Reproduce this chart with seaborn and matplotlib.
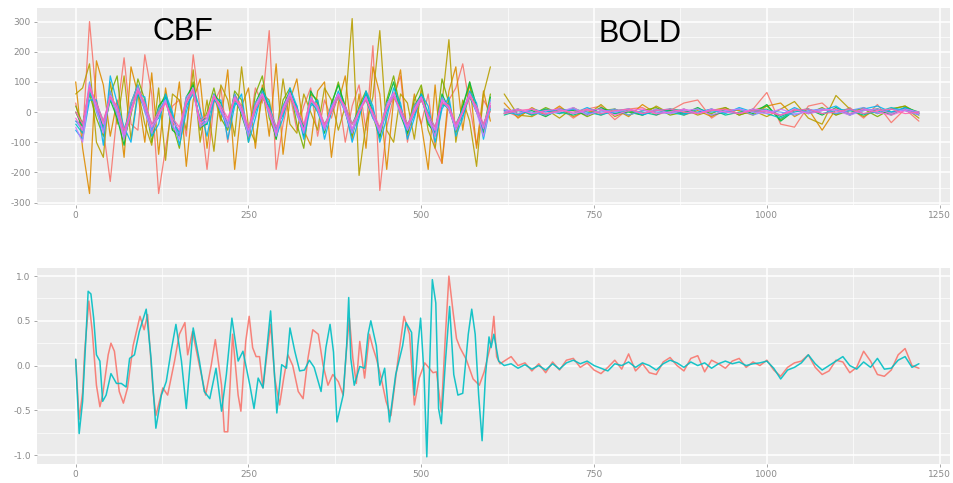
import pandas as pd
import matplotlib.pyplot as plt
import seaborn as sns

# --- Time grids ---
cbf_t = list(range(0, 601, 10))
bold_t = list(range(620, 1221, 20))
bold_t_avg = list(range(620, 1221, 10))

# --- Top panel: 12 ROI traces, CBF part (t = 0..600) ---
cbf_1 = [30, -80, 300, 40, -60, -230, 0, 180, -40, -60,
         190, 60, -270, -120, 20, 40, -80, 190, 10, -190,
         30, 80, -100, 60, 20, -70, 80, 30, 270, -190,
         -40, 60, -60, 20, 80, -80, 40, -20, 60, -100,
         20, 90, -60, 220, -260, -50, 50, 120, -100, 30,
         -40, 60, -120, -170, 40, 80, 160, 20, -110, 40,
         0]
cbf_2 = [100, -120, -270, 170, 90, -80, 40, -150, 150, 60,
         -100, 130, -140, 80, -60, 100, -180, 40, 110, -120,
         60, -30, 140, -190, 20, 80, -120, 90, -80, 160,
         -140, 40, 110, -60, -110, 70, 100, -150, 30, 120,
         -90, 60, -120, 150, 60, -190, 40, 140, -80, 60,
         -40, -190, 90, -170, 70, 150, -60, 100, -120, 70,
         -30]
cbf_3 = [60, 80, 160, -100, -150, 100, -40, 120, -90, 70,
         -40, -110, 80, -160, 60, 40, -60, 140, -100, 40,
         -130, 90, 40, -80, 150, -50, -100, 60, 40, -90,
         110, -40, -70, 60, 0, -60, 80, 40, -60, 20,
         310, -210, -40, 50, 270, -60, -100, 60, 30, -90,
         80, -60, -120, 30, 240, -100, 40, -30, -180, 60,
         150]
cbf_4 = [20, -40, 60, -20, -80, 60, 120, -90, -10, 110,
         40, -100, 10, 60, -40, -120, 30, 100, -60, 0,
         80, -20, -60, 70, 40, -100, 60, 120, -20, -80,
         40, 80, -40, -120, 60, 40, -60, 20, 100, 0,
         -80, 20, 70, -10, -90, 40, 120, 10, -60, 40,
         90, -30, -80, 110, 30, -70, 20, 90, 0, -60,
         60]
cbf_5 = [0, -50, 80, 30, -60, 40, -20, -110, 30, 90,
         10, -70, 20, 50, -60, -80, 50, 90, -50, -40,
         60, 30, -50, 60, -10, -80, 30, 80, 10, -90,
         20, 70, 10, -80, 70, 30, -70, 30, 90, 20,
         -70, 10, 60, 0, -80, 30, 100, -10, -70, 20,
         60, -40, -70, 60, 10, -60, 20, 100, 20, -70,
         50]
cbf_6 = [-30, -40, 70, 10, -50, 50, 0, -60, 20, 60,
         10, -60, 0, 40, -20, -70, 30, 70, -30, -20,
         40, 20, -40, 40, 0, -50, 10, 50, 10, -60,
         0, 50, 10, -50, 30, 10, -40, 0, 50, 20,
         -40, 10, 40, -20, -50, 10, 50, 10, -40, 0,
         40, -10, -50, 30, 10, -40, 10, 50, 0, -40,
         20]
cbf_7 = [-40, -70, 60, 30, -30, 40, 20, -80, 0, 70,
         30, -40, -20, 50, -10, -80, 20, 60, -20, -40,
         50, 0, -50, 30, 20, -70, 0, 60, 20, -50,
         -10, 60, 20, -70, 40, 0, -60, 20, 50, 0,
         -70, -10, 60, 10, -70, 0, 60, 20, -60, -10,
         50, 0, -70, 20, 30, -60, -10, 50, 20, -60,
         10]
cbf_8 = [-60, -90, 40, 40, -110, 120, 30, -50, -100, 60,
         50, -80, -40, 60, 0, -110, 0, 80, 10, -80,
         40, 40, -90, 20, 60, -100, -20, 70, 30, -80,
         -20, 80, 20, -90, 20, 40, -90, 0, 70, 10,
         -100, -20, 70, 20, -100, -20, 80, 30, -90, -20,
         60, 20, -100, 10, 50, -80, -20, 70, 30, -90,
         20]
cbf_9 = [-30, -60, 100, 0, -60, 70, -10, -80, 30, 90,
         0, -60, 10, 40, -50, -70, 50, 70, -40, -30,
         60, 0, -40, 60, 0, -70, 30, 60, -10, -60,
         20, 60, -10, -60, 50, 10, -50, 20, 60, 0,
         -60, 10, 50, -20, -60, 30, 60, -10, -50, 20,
         50, -30, -60, 50, 10, -50, 10, 60, 0, -50,
         40]
cbf_10 = [-50, -100, 80, 10, -70, 50, 0, -90, 0, 70,
          10, -70, -10, 40, -40, -90, 30, 70, -50, -30,
          50, 10, -50, 50, 0, -80, 10, 60, 0, -80,
          10, 60, 0, -70, 40, 10, -60, 10, 60, 0,
          -70, 0, 50, -10, -70, 10, 60, 0, -60, 0,
          50, -20, -80, 40, 10, -60, 0, 60, 0, -80,
          20]
cbf_11 = [-20, -60, 90, 20, -40, 55, 10, -75, 10, 80,
          20, -50, -10, 30, -30, -60, 40, 80, -40, -20,
          55, 10, -30, 50, 10, -60, 20, 60, 0, -70,
          10, 65, 0, -60, 45, 20, -50, 10, 60, 10,
          -55, 0, 50, -10, -60, 20, 65, 0, -50, 10,
          50, -20, -60, 40, 20, -50, 0, 60, 10, -55,
          30]
cbf_12 = [0, -40, 80, 30, -30, 50, 20, -60, 0, 70,
          30, -40, 0, 30, -20, -50, 30, 70, -30, -10,
          50, 20, -20, 40, 20, -50, 10, 50, 10, -50,
          0, 50, 10, -40, 40, 20, -40, 0, 50, 20,
          -40, 0, 40, 0, -50, 10, 50, 10, -40, 0,
          40, -10, -50, 30, 20, -40, 0, 50, 20, -40,
          20]

# --- Top panel: BOLD part (t = 620..1220) ---
bold_1 = [5, -15, 10, -10, 15, -20, 10, 20, -25, 10, 15, -10, 5, 30, 40, -20,
          10, -5, 10, 65, -40, -50, 20, 30, -10, 15, -20, 25, -35, 10, -30]
bold_2 = [30, -20, 15, -10, 20, -15, 5, -10, 10, -15, 25, -5, 10, -10, 5, -15,
          10, 5, -10, 20, 30, -15, 10, -60, 10, -10, 15, -5, 10, 20, -10]
bold_3 = [60, -10, -15, 10, -20, 15, -10, 25, -15, 5, -10, 20, -5, 10, -10, 5,
          15, -10, 5, -15, 10, 35, -20, -40, 55, 10, -15, 10, -5, 15, -20]
bold_4 = [-5, 10, -10, 15, -5, 10, -15, 5, 10, -10, 5, 15, -10, 0, 10, -5,
          15, -10, 5, 20, -25, 10, -5, 15, -10, 5, 10, -15, 10, 20, -5]
bold_5 = [10, -5, 5, -15, 10, 5, -10, 15, -5, 0, -10, 10, 5, -5, 15, -10,
          0, 10, -5, 25, -30, 5, 10, -10, 15, -5, 5, 10, -10, 15, 0]
bold_6 = [-10, 5, -5, 10, 0, -10, 5, 10, -5, 5, 0, -10, 10, 5, -5, 10,
          -10, 0, 5, 10, -15, 5, 0, 10, -5, 5, -10, 10, 0, 10, -5]
bold_7 = [0, 10, -10, 5, -5, 10, 0, -10, 5, 10, -5, 5, 0, -10, 10, 0,
          5, -5, 10, -5, -20, 0, 10, -5, 5, 10, -5, 0, 15, 5, 0]
bold_8 = [5, -10, 10, 0, 10, -5, 15, -5, 0, 10, -10, 5, 10, -5, 0, 10,
          -5, 15, 0, 5, -10, 15, -5, 5, 20, -10, 10, 20, 0, 15, -5]
bold_9 = [-5, 5, 0, -10, 5, 10, -5, 0, 10, -10, 5, 0, -5, 10, -5, 5,
          0, 10, -10, 5, 0, -10, 5, 10, -5, 5, 15, -5, 10, 5, -10]
bold_10 = [10, -5, 10, -5, 0, 15, -10, 5, 0, 10, -5, 10, -5, 5, 10, -10,
           5, 10, 0, -5, 10, -5, 0, 10, 5, -10, 5, 10, -5, 10, 0]
bold_11 = [0, 10, -5, 5, 10, -5, 5, 10, -10, 5, 10, -5, 0, 10, -5, 10,
           0, -5, 10, 5, -10, 10, -5, 5, 10, -5, 10, 0, -10, 5, -5]
bold_12 = [-5, 5, 10, -5, 5, 0, 10, -5, 5, 10, -5, 5, 10, 0, -5, 5,
           10, -5, 5, 0, -10, 5, 10, -5, 0, 10, -5, 5, 10, -5, 0]

# --- Bottom panel: two averaged signals ---
red_cbf_t = [0, 5, 10, 13, 19, 24, 30, 35, 39, 47,
             51, 56, 63, 69, 75, 83, 93, 99, 104, 112,
             116, 126, 133, 143, 150, 158, 162, 169, 179, 188,
             196, 202, 211, 215, 220, 227, 235, 239, 246, 251,
             256, 261, 266, 271, 276, 282, 288, 295, 301, 307,
             314, 322, 329, 336, 343, 351, 358, 365, 372, 380,
             387, 392, 396, 401, 406, 411, 418, 425, 430, 435,
             442, 449, 456, 466, 475, 483, 490, 497, 505, 517,
             522, 529, 535, 540, 546, 551, 556, 565, 575, 584,
             591, 601, 605, 609, 614]
red_cbf = [0.07, -0.6, -0.3, 0.16, 0.72, 0.38, -0.22, -0.46, -0.33, 0.12,
           0.25, 0.16, -0.29, -0.42, -0.25, 0.22, 0.55, 0.4, 0.57, -0.29,
           -0.56, -0.25, -0.33, 0.05, 0.35, 0.48, 0.12, 0.38, 0.0, -0.33,
           0.0, 0.29, -0.22, -0.74, -0.74, 0.35, -0.33, -0.51, 0.27, 0.55,
           0.2, 0.1, 0.1, -0.25, 0.08, 0.46, -0.14, -0.44, -0.14, 0.12,
           0.0, -0.29, -0.37, 0.08, 0.4, 0.35, 0.0, -0.22, -0.1, -0.18,
           -0.33, 0.2, 0.53, 0.08, -0.2, 0.27, -0.14, 0.35, 0.2, 0.08,
           -0.14, -0.4, -0.56, 0.05, 0.55, 0.35, -0.44, -0.14, 0.03, -0.08,
           -0.07, -0.52, 0.35, 1.0, 0.6, 0.3, 0.2, 0.07, -0.15, -0.22,
           -0.07, 0.25, 0.55, 0.1, 0.02]
cyan_cbf_t = [0, 5, 10, 15, 18, 22, 26, 30, 35, 39,
              44, 51, 59, 66, 73, 78, 85, 92, 102, 109,
              116, 124, 131, 138, 145, 153, 160, 170, 179, 186,
              194, 203, 211, 218, 226, 235, 242, 252, 258, 264,
              271, 277, 282, 287, 291, 298, 305, 310, 317, 324,
              331, 338, 345, 355, 362, 368, 373, 378, 387, 392,
              395, 398, 403, 411, 418, 423, 427, 435, 440, 447,
              454, 463, 473, 478, 486, 490, 495, 499, 504, 508,
              512, 516, 521, 525, 529, 535, 541, 547, 553, 560,
              568, 573, 578, 583, 588, 593, 598, 601, 605, 612]
cyan_cbf = [0.07, -0.76, -0.4, 0.35, 0.83, 0.8, 0.53, 0.12, 0.05, -0.4,
            -0.33, -0.09, -0.2, -0.2, -0.24, 0.08, 0.12, 0.38, 0.63, 0.08,
            -0.7, -0.33, -0.18, 0.16, 0.46, 0.05, -0.48, 0.42, 0.05, -0.29,
            -0.37, -0.03, -0.51, -0.1, 0.53, 0.05, 0.16, -0.22, -0.48, -0.14,
            -0.25, 0.22, 0.61, -0.03, -0.53, 0.01, -0.03, 0.42, 0.16, -0.06,
            -0.05, 0.06, -0.02, -0.29, 0.2, 0.46, 0.15, -0.63, -0.33, 0.22,
            0.76, 0.08, -0.22, -0.01, -0.03, 0.35, 0.5, 0.22, -0.22, -0.03,
            -0.63, -0.1, 0.22, 0.48, 0.37, -0.33, 0.22, 0.53, -0.1, -1.02,
            -0.03, 0.96, 0.7, -0.48, -0.65, 0.05, 0.66, -0.1, -0.33, -0.31,
            0.35, 0.63, 0.35, -0.33, -0.84, -0.1, 0.32, 0.2, 0.35, 0.05]
red_bold = [0.05, 0.1, 0.0, 0.03, -0.06, 0.02, -0.08, 0.04, -0.05, 0.06,
            0.08, -0.02, 0.03, -0.05, -0.09, -0.02, 0.06, -0.04, 0.13, -0.06,
            0.02, -0.08, -0.1, 0.04, 0.09, 0.0, -0.06, 0.08, 0.11, -0.07,
            0.06, 0.02, -0.03, 0.05, 0.08, -0.02, 0.04, 0.0, 0.06, -0.05,
            -0.12, -0.02, 0.03, 0.05, 0.12, -0.02, -0.1, -0.06, 0.06, 0.04,
            -0.08, -0.02, 0.16, 0.05, -0.1, -0.12, -0.05, 0.12, 0.19, 0.0,
            -0.03]
cyan_bold = [0.0, 0.02, -0.03, 0.01, -0.04, 0.0, -0.05, 0.02, -0.04, 0.03,
             0.06, 0.02, 0.05, 0.0, -0.03, -0.06, 0.02, 0.0, 0.04, -0.02,
             0.03, 0.0, -0.05, 0.02, 0.06, 0.03, -0.02, 0.04, 0.0, 0.03,
             -0.03, 0.02, 0.05, 0.02, 0.04, 0.0, 0.02, 0.03, 0.05, -0.03,
             -0.15, -0.05, -0.02, 0.03, 0.12, 0.02, -0.05, 0.0, 0.05, 0.1,
             0.0, -0.04, 0.04, -0.02, 0.08, -0.04, -0.03, 0.06, 0.1, -0.02,
             0.02]

# ggplot2 hue palette for 12 groups
roi_colors = ['#F8766D', '#DE8C00', '#B79F00', '#7CAE00', '#00BA38', '#00C08B',
              '#00BFC4', '#00B4F0', '#619CFF', '#C77CFF', '#F564E3', '#FF64B0']

# --- Build long tables ---
cbf_list = [cbf_1, cbf_2, cbf_3, cbf_4, cbf_5, cbf_6,
            cbf_7, cbf_8, cbf_9, cbf_10, cbf_11, cbf_12]
bold_list = [bold_1, bold_2, bold_3, bold_4, bold_5, bold_6,
             bold_7, bold_8, bold_9, bold_10, bold_11, bold_12]
frames = []
for i, (c, b) in enumerate(zip(cbf_list, bold_list)):
    frames.append(pd.DataFrame({'t': cbf_t, 'value': c, 'roi': f'r{i+1:02d}', 'seg': f'cbf{i}'}))
    frames.append(pd.DataFrame({'t': bold_t, 'value': b, 'roi': f'r{i+1:02d}', 'seg': f'bold{i}'}))
df_top = pd.concat(frames, ignore_index=True)

df_bot = pd.concat([
    pd.DataFrame({'t': red_cbf_t + bold_t_avg, 'value': red_cbf + red_bold, 'sig': 'a'}),
    pd.DataFrame({'t': cyan_cbf_t + bold_t_avg, 'value': cyan_cbf + cyan_bold, 'sig': 'b'}),
], ignore_index=True)

# --- Plotting ---
sns.set_theme(style="darkgrid")
plt.rcParams['axes.unicode_minus'] = False
plt.rcParams['font.family'] = ['DejaVu Sans']

W, H = 954, 483
fig = plt.figure(figsize=(W / 100, H / 100), dpi=100)
fig.patch.set_facecolor('white')
ax1 = fig.add_axes([37 / W, 1 - 205 / H, 913 / W, 197 / H])
ax2 = fig.add_axes([37 / W, 1 - 464 / H, 913 / W, 196 / H])

sns.lineplot(data=df_top, x='t', y='value', hue='roi', units='seg', estimator=None,
             palette=roi_colors, linewidth=0.9, alpha=0.9, legend=False, ax=ax1)
sns.lineplot(data=df_bot, x='t', y='value', hue='sig', estimator=None,
             palette=['#F8766D', '#00BFC4'], linewidth=1.1, alpha=0.9, legend=False, ax=ax2)

for ax in (ax1, ax2):
    ax.set_facecolor('#EBEBEB')
    ax.set_xlim(-56, 1265)
    ax.set_xticks([0, 250, 500, 750, 1000, 1250])
    ax.set_xticks([125, 375, 625, 875, 1125], minor=True)
    ax.grid(which='major', color='white', linewidth=1.1)
    ax.grid(which='minor', color='white', linewidth=0.5)
    ax.tick_params(which='major', length=2.5, width=0.6, color='#9a9a9a',
                   labelcolor='#8a8a8a', labelsize=6.5, pad=2,
                   bottom=True, left=True)
    ax.tick_params(which='minor', length=0)
    ax.set_xlabel('')
    ax.set_ylabel('')
    sns.despine(ax=ax, top=True, right=True, left=True, bottom=True)
    ax.set_axisbelow(True)

ax1.set_ylim(-308, 345)
ax1.set_yticks([-300, -200, -100, 0, 100, 200, 300])
ax1.set_yticks([-250, -150, -50, 50, 150, 250], minor=True)

ax2.set_ylim(-1.1, 1.09)
ax2.set_yticks([-1.0, -0.5, 0.0, 0.5, 1.0], labels=['-1.0', '-0.5', '0.0', '0.5', '1.0'])
ax2.set_yticks([-0.75, -0.25, 0.25, 0.75], minor=True)

fig.text(183 / W, 1 - 32 / H, 'CBF', fontsize=22, family='Liberation Sans',
         ha='center', va='center', color='black')
fig.text(640 / W, 1 - 34 / H, 'BOLD', fontsize=22, family='Liberation Sans',
         ha='center', va='center', color='black')

plt.savefig('out.png', dpi=100)
plt.close()
